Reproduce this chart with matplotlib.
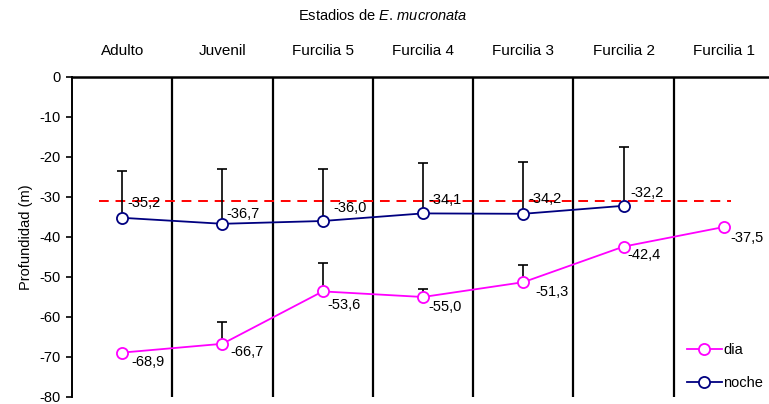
import matplotlib
matplotlib.use("Agg")
import matplotlib.pyplot as plt
import numpy as np

plt.rcParams['font.family'] = ['Liberation Sans', 'DejaVu Sans']
plt.rcParams['mathtext.fontset'] = 'custom'
plt.rcParams['mathtext.rm'] = 'Liberation Sans'
plt.rcParams['mathtext.it'] = 'Liberation Sans:italic'

# Developmental stages, shallow-to-deep ordering as in the survey sheet
stages = ["Adulto", "Juvenil", "Furcilia 5", "Furcilia 4", "Furcilia 3", "Furcilia 2", "Furcilia 1"]

# Mean depth (m) per stage; night has no Furcilia 1 record
dia = [-68.9, -66.7, -53.6, -55.0, -51.3, -42.4, -37.5]
noche = [-35.2, -36.7, -36.0, -34.1, -34.2, -32.2]

# Upper standard deviation (m)
dia_err = [0.0, 5.5, 7.2, 2.0, 4.2, 0.0, 0.0]
noche_err = [11.7, 13.6, 12.9, 12.7, 13.0, 14.6]

# Reference depth (m)
ref_depth = -31.0

y_ticks = [0, -10, -20, -30, -40, -50, -60, -70, -80]

# Label placement offsets (points) for each point's value
dia_off = [(7, -7), (6, -6), (3, -10), (4, -7), (9, -7), (3, -6), (5, -8)]
noche_off = [(4, 11), (3, 7), (8, 9), (4, 10), (4, 11), (5, 9)]

MAGENTA = "#FF00FF"
NAVY = "#000080"

fig = plt.figure(figsize=(7.69, 4.04), dpi=100)
ax = fig.add_axes([72 / 769, 1 - 397 / 404, 702 / 769, 320 / 404])

x_dia = np.arange(len(dia))
x_noche = np.arange(len(noche))

ax.plot([-0.23, 6.07], [ref_depth, ref_depth], color="#FF0000", lw=1.4,
        dashes=(5, 3.5), zorder=2)

for i in range(len(stages) - 1):
    ax.axvline(i + 0.5, color="black", lw=1.6, zorder=1)

ax.errorbar(x_noche, noche, yerr=[np.zeros(len(noche)), noche_err], fmt="none",
            ecolor="black", elinewidth=1.2, capsize=3.5, capthick=1.2, zorder=3)
ax.errorbar(x_dia, dia, yerr=[np.zeros(len(dia)), dia_err], fmt="none",
            ecolor="black", elinewidth=1.2, capsize=3.5, capthick=1.2, zorder=3)

ax.plot(x_dia, dia, color=MAGENTA, lw=1.3, marker="o", ms=8, mfc="white",
        mec=MAGENTA, mew=1.3, label="dia", zorder=4)
ax.plot(x_noche, noche, color=NAVY, lw=1.3, marker="o", ms=8, mfc="white",
        mec=NAVY, mew=1.3, label="noche", zorder=4)

for xi, v, (dx, dy) in zip(x_dia, dia, dia_off):
    ax.annotate(f"{v:.1f}".replace(".", ","), (xi, v), xytext=(dx, dy),
                textcoords="offset points", ha="left", va="center", fontsize=10.5, zorder=5)
for xi, v, (dx, dy) in zip(x_noche, noche, noche_off):
    ax.annotate(f"{v:.1f}".replace(".", ","), (xi, v), xytext=(dx, dy),
                textcoords="offset points", ha="left", va="center", fontsize=10.5, zorder=5)

ax.set_xlim(-0.5, len(stages) - 0.5)
ax.set_ylim(-80, 0)
ax.set_yticks(y_ticks)
ax.set_yticklabels([str(t) for t in y_ticks], fontsize=10.5)
ax.tick_params(axis="y", direction="out", length=4, width=1.2, pad=4)

ax.xaxis.tick_top()
ax.set_xticks(x_dia)
ax.set_xticklabels(stages, fontsize=11)
ax.tick_params(axis="x", length=0, pad=14)

for side in ["right", "bottom"]:
    ax.spines[side].set_visible(False)
ax.spines["top"].set_linewidth(1.8)
ax.spines["left"].set_linewidth(1.4)

ax.set_ylabel("Profundidad (m)", fontsize=10.5, labelpad=5)

fig.text(383 / 769, 1 - 15 / 404, r"Estadios de $\mathit{E.}$$\mathit{\,mucronata}$",
         ha="center", va="center", fontsize=10.5)

ax.legend(loc="lower right", bbox_to_anchor=(0.995, 0.0), frameon=False,
          fontsize=10.5, handlelength=2.4, handletextpad=0.1, labelspacing=1.25,
          borderaxespad=0.1)

fig.savefig("out.png", dpi=100)
